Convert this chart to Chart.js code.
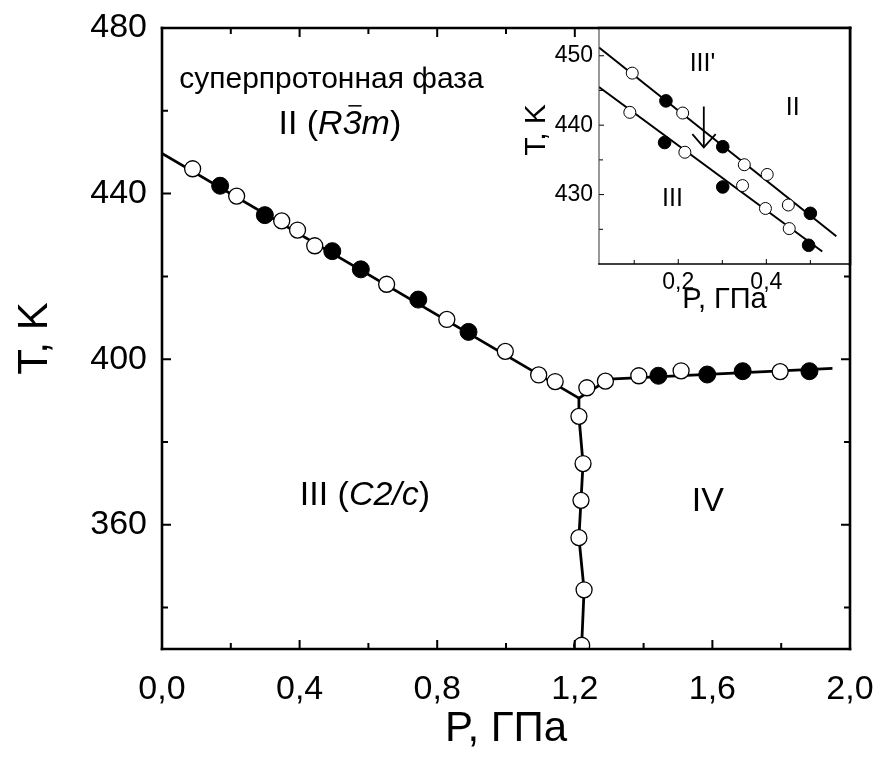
<!DOCTYPE html>
<html>
<head>
<meta charset="utf-8">
<script src="https://cdn.jsdelivr.net/npm/chart.js@4.4.1/dist/chart.umd.min.js"></script>
<style>
  body { margin: 0; background: #fff; }
  #wrap { position: relative; width: 876px; height: 763px; }
  #wrap canvas { position: absolute; left: 0; top: 0; }
</style>
</head>
<body>
<div id="wrap">
  <canvas id="main" width="876" height="763"></canvas>
  <canvas id="inset" width="876" height="763"></canvas>
</div>
<script>
const F = "'Liberation Sans', Arial, sans-serif";

// ---- main diagram: P (GPa) vs T (K) ----
const pTicks = [0, 0.2, 0.4, 0.6, 0.8, 1.0, 1.2, 1.4, 1.6, 1.8, 2.0];
const pLabelled = [0, 0.4, 0.8, 1.2, 1.6, 2.0];
const tTicks = [340, 360, 380, 400, 420, 440, 460, 480];
const tLabelled = [360, 400, 440, 480];

// phase boundary II / III
const bIIP = [0, 1.212];
const bIIT = [449.7, 390.6];
// phase boundary II / IV
const bIVP = [1.212, 1.30, 1.949];
const bIVT = [390.6, 395.2, 397.8];
// phase boundary III / IV (line runs through its own points)
const vertP = [1.212, 1.224, 1.218, 1.212, 1.227, 1.220];
const vertT = [386.2, 374.8, 365.9, 356.9, 344.3, 330.9];

// measured points, open and filled circles
const openP = [0.089, 0.217, 0.348, 0.394, 0.444, 0.653, 0.828, 0.998, 1.095, 1.143,
               1.235, 1.289, 1.386, 1.509, 1.797];
const openT = [446.0, 439.4, 433.4, 431.2, 427.4, 418.1, 409.6, 401.9, 396.2, 394.6,
               393.1, 394.7, 396.0, 397.2, 397.0];
const filledP = [0.169, 0.299, 0.495, 0.578, 0.745, 0.891, 1.443, 1.585, 1.688, 1.882];
const filledT = [441.9, 434.8, 426.1, 421.7, 414.4, 406.6, 396.0, 396.3, 397.1, 397.1];

// ---- inset: low-pressure part ----
const ipTicks = [0.1, 0.2, 0.3, 0.4, 0.5];
const ipLabelled = [0.2, 0.4];
const itTicks = [425, 430, 435, 440, 445, 450];
const itLabelled = [430, 440, 450];

const upLineP = [0.02, 0.559];
const upLineT = [451.2, 424.0];
const lowLineP = [0.02, 0.527];
const lowLineT = [445.5, 421.8];

const upOpenP = [0.0955, 0.210, 0.350, 0.402, 0.450];
const upOpenT = [447.5, 441.75, 434.3, 432.9, 428.5];
const upFilledP = [0.172, 0.301, 0.500];
const upFilledT = [443.5, 436.9, 427.3];
const lowOpenP = [0.090, 0.215, 0.346, 0.398, 0.452];
const lowOpenT = [441.85, 436.1, 431.3, 428.0, 425.1];
const lowFilledP = [0.169, 0.301, 0.496];
const lowFilledT = [437.5, 431.1, 422.7];

// arrow marking the III' region
const arrowShaftP = [0.258, 0.258];
const arrowShaftT = [442.7, 436.8];
const arrowHeadP = [0.232, 0.258, 0.285];
const arrowHeadT = [438.7, 436.8, 438.7];

const xy = (P, T) => P.map((p, i) => ({ x: p, y: T[i] }));
const comma = (v, d) => v.toFixed(d).replace('.', ',');

// frame around the plot area + inward tick marks
const frameTicks = {
  id: 'frameTicks',
  afterDatasetsDraw(chart, args, o) {
    const { ctx, chartArea: a } = chart;
    const x = chart.scales.x, y = chart.scales.y;
    ctx.save();
    ctx.strokeStyle = '#000';
    ctx.lineWidth = o.tickWidth;
    ctx.beginPath();
    x.ticks.forEach(t => {
      const px = x.getPixelForValue(t.value);
      const len = o.xMajor.includes(t.value) ? o.major : o.minor;
      ctx.moveTo(px, a.bottom); ctx.lineTo(px, a.bottom - len);
      if (o.mirror) { ctx.moveTo(px, a.top); ctx.lineTo(px, a.top + len); }
    });
    y.ticks.forEach(t => {
      const py = y.getPixelForValue(t.value);
      const len = o.yMajor.includes(t.value) ? o.major : o.minor;
      ctx.moveTo(a.left, py); ctx.lineTo(a.left + len, py);
      if (o.mirror) { ctx.moveTo(a.right, py); ctx.lineTo(a.right - len, py); }
    });
    ctx.stroke();
    ctx.lineCap = 'square';
    const sides = {
      left: [a.left, a.top, a.left, a.bottom],
      right: [a.right, a.top, a.right, a.bottom],
      top: [a.left, a.top, a.right, a.top],
      bottom: [a.left, a.bottom, a.right, a.bottom]
    };
    Object.keys(o.sides).forEach(k => {
      const s = o.sides[k], c = sides[k];
      ctx.strokeStyle = s.color;
      ctx.lineWidth = s.width;
      ctx.beginPath();
      ctx.moveTo(c[0], c[1]); ctx.lineTo(c[2], c[3]);
      ctx.stroke();
    });
    ctx.restore();
  }
};

// phase names, with italic space-group symbols
function drawRich(ctx, x, y, parts, size, align) {
  const font = it => (it ? 'italic ' : '') + size + 'px ' + F;
  let w = 0;
  parts.forEach(pt => { ctx.font = font(pt.i); w += ctx.measureText(pt.t).width; });
  let cx = align === 'left' ? x : x - w / 2;
  ctx.textAlign = 'left';
  ctx.textBaseline = 'middle';
  parts.forEach(pt => {
    ctx.font = font(pt.i);
    const pw = ctx.measureText(pt.t).width;
    ctx.fillText(pt.t, cx, y);
    if (pt.bar) {
      const by = y - size * 0.56;
      ctx.beginPath();
      ctx.lineWidth = Math.max(1, size * 0.045);
      ctx.moveTo(cx + pw * 0.3, by);
      ctx.lineTo(cx + pw * 1.0, by);
      ctx.stroke();
    }
    cx += pw;
  });
}

const phaseLabels = {
  id: 'phaseLabels',
  afterDatasetsDraw(chart, args, o) {
    const { ctx, chartArea: a } = chart;
    const x = chart.scales.x, y = chart.scales.y;
    ctx.save();
    ctx.fillStyle = '#000';
    ctx.strokeStyle = '#000';
    o.items.forEach(it => {
      drawRich(ctx, x.getPixelForValue(it.p), y.getPixelForValue(it.t), it.parts, it.size, it.align);
    });
    // axis title placed by hand (inset only)
    if (o.yTitle) {
      ctx.translate(a.left + o.yTitle.dx, a.top + o.yTitle.dy);
      ctx.rotate(-Math.PI / 2);
      ctx.font = o.yTitle.size + 'px ' + F;
      ctx.textAlign = 'center';
      ctx.textBaseline = 'middle';
      ctx.fillText(o.yTitle.text, 0, 0);
    }
    ctx.restore();
  }
};

const insetBg = {
  id: 'insetBg',
  beforeDraw(chart) {
    const { ctx, chartArea: a } = chart;
    ctx.save();
    ctx.fillStyle = '#fff';
    ctx.fillRect(a.left, a.top, a.right - a.left, a.bottom - a.top);
    ctx.restore();
  }
};

function axis(min, max, ticks, labelled, digits, fit, tickFont, pad, title, titleFont, titlePad) {
  return {
    type: 'linear', min: min, max: max,
    afterBuildTicks: s => { s.ticks = ticks.map(v => ({ value: v })); },
    afterFit: s => {
      fit(s);
      // keep the plot area fixed; labels may overhang it
      s.paddingLeft = 0; s.paddingRight = 0; s.paddingTop = 0; s.paddingBottom = 0;
    },
    grid: { display: false, drawTicks: false },
    border: { display: false },
    ticks: {
      autoSkip: false, maxRotation: 0, padding: pad, color: '#000',
      font: { family: F, size: tickFont },
      callback: v => labelled.includes(v) ? comma(v, digits) : ''
    },
    title: { display: !!title, text: title, color: '#000', font: { family: F, size: titleFont }, padding: titlePad }
  };
}

new Chart(document.getElementById('main'), {
  type: 'scatter',
  data: {
    datasets: [
      { data: xy(filledP, filledT), pointRadius: 8.5, pointBackgroundColor: '#000',
        pointBorderColor: '#000', pointBorderWidth: 1, clip: 0, order: 0 },
      { data: xy(openP, openT).concat(xy(vertP, vertT)), pointRadius: 8, pointBackgroundColor: '#fff',
        pointBorderColor: '#000', pointBorderWidth: 1.3, clip: 0, order: 1 },
      { type: 'line', data: xy(bIIP, bIIT), borderColor: '#000', borderWidth: 2.8, pointRadius: 0, order: 2 },
      { type: 'line', data: xy(bIVP, bIVT), borderColor: '#000', borderWidth: 2.8, pointRadius: 0, order: 2 },
      { type: 'line', data: xy([bIIP[1]].concat(vertP), [bIIT[1]].concat(vertT)).concat([{ x: 1.222, y: 328 }]),
        borderColor: '#000', borderWidth: 2.8, pointRadius: 0, clip: 0, order: 2 }
    ]
  },
  options: {
    responsive: false,
    animation: false,
    events: [],
    layout: { padding: { left: 0, top: 28, right: 26, bottom: 0 } },
    plugins: {
      legend: { display: false },
      tooltip: { enabled: false },
      frameTicks: {
        xMajor: pLabelled, yMajor: tLabelled, major: 9, minor: 6, tickWidth: 2, mirror: true,
        sides: {
          left: { width: 2.6, color: '#000' }, bottom: { width: 2.6, color: '#000' },
          top: { width: 2.6, color: '#000' }, right: { width: 2.6, color: '#000' }
        }
      },
      phaseLabels: {
        items: [
          { p: 0.05, t: 467.4, size: 30, align: 'left', parts: [{ t: 'суперпротонная фаза' }] },
          { p: 0.517, t: 456.6, size: 34, align: 'center',
            parts: [{ t: 'II (' }, { t: 'R', i: 1 }, { t: '3', i: 1, bar: 1 }, { t: 'm', i: 1 }, { t: ')' }] },
          { p: 0.59, t: 367.0, size: 34, align: 'center',
            parts: [{ t: 'III (' }, { t: 'C2/c', i: 1 }, { t: ')' }] },
          { p: 1.587, t: 365.5, size: 34, align: 'center', parts: [{ t: 'IV' }] }
        ]
      }
    },
    scales: {
      x: axis(0, 2, pTicks, pLabelled, 1, s => { s.height = 114; }, 34, 20,
              'P, ГПа', 42, { top: 0, bottom: 8 }),
      y: axis(330, 480, tTicks, tLabelled, 0, s => { s.width = 162; }, 34, 15,
              'T, K', 42, { top: 10, bottom: 0 })
    }
  },
  plugins: [frameTicks, phaseLabels]
});

new Chart(document.getElementById('inset'), {
  type: 'scatter',
  data: {
    datasets: [
      { data: xy(upFilledP, upFilledT).concat(xy(lowFilledP, lowFilledT)), pointRadius: 6.3,
        pointBackgroundColor: '#000', pointBorderColor: '#000', pointBorderWidth: 1, order: 0 },
      { data: xy(upOpenP, upOpenT).concat(xy(lowOpenP, lowOpenT)), pointRadius: 6,
        pointBackgroundColor: '#fff', pointBorderColor: '#000', pointBorderWidth: 1, order: 1 },
      { type: 'line', data: xy(upLineP, upLineT), borderColor: '#000', borderWidth: 2, pointRadius: 0, order: 2 },
      { type: 'line', data: xy(lowLineP, lowLineT), borderColor: '#000', borderWidth: 2, pointRadius: 0, order: 2 },
      { type: 'line', data: xy(arrowShaftP, arrowShaftT), borderColor: '#000', borderWidth: 1.8, pointRadius: 0, order: 2 },
      { type: 'line', data: xy(arrowHeadP, arrowHeadT), borderColor: '#000', borderWidth: 1.8, pointRadius: 0, order: 2 }
    ]
  },
  options: {
    responsive: false,
    animation: false,
    events: [],
    layout: { padding: { left: 529, top: 28, right: 26, bottom: 437 } },
    plugins: {
      legend: { display: false },
      tooltip: { enabled: false },
      frameTicks: {
        xMajor: ipLabelled, yMajor: itLabelled, major: 5, minor: 4, tickWidth: 1, mirror: false,
        sides: {
          left: { width: 1, color: '#333' }, bottom: { width: 1.5, color: '#000' },
          top: { width: 2.6, color: '#000' }, right: { width: 2.6, color: '#000' }
        }
      },
      phaseLabels: {
        items: [
          { p: 0.255, t: 448.8, size: 25, align: 'center', parts: [{ t: "III'" }] },
          { p: 0.46, t: 442.4, size: 25, align: 'center', parts: [{ t: 'II' }] },
          { p: 0.187, t: 429.3, size: 25, align: 'center', parts: [{ t: 'III' }] }
        ],
        yTitle: { text: 'T, K', size: 30, dx: -62, dy: 102 }
      }
    },
    scales: {
      x: axis(0.02, 0.59, ipTicks, ipLabelled, 1, s => { s.height = 62; }, 23, 5,
              'P, ГПа', 29, { top: 0, bottom: 9 }),
      y: axis(420, 454, itTicks, itLabelled, 0, s => { s.width = 70; }, 23, 6,
              '', 29, { top: 0, bottom: 0 })
    }
  },
  plugins: [insetBg, frameTicks, phaseLabels]
});
</script>
</body>
</html>
